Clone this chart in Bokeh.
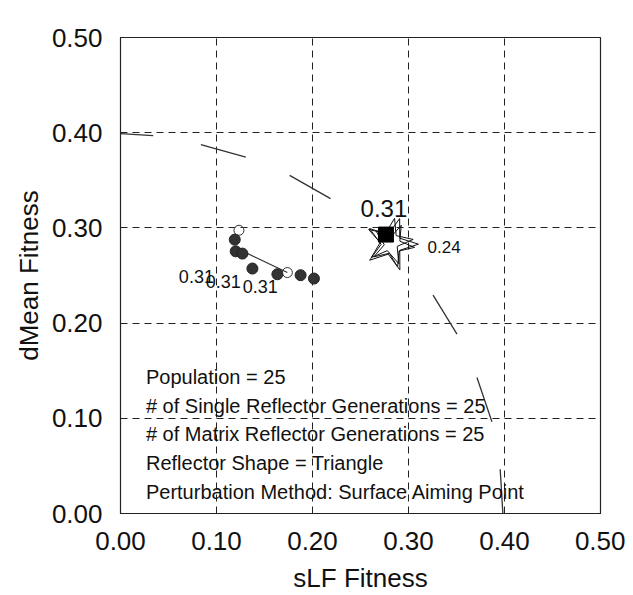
from bokeh.plotting import figure
from bokeh.models import Range1d, FixedTicker, PrintfTickFormatter
from bokeh.core.properties import value
from bokeh.embed import file_html
from bokeh.resources import INLINE

# ---- data ----
tick_vals = [0.0, 0.1, 0.2, 0.3, 0.4, 0.5]
grid_vals = [0.1, 0.2, 0.3, 0.4]

# broken arc segments (front)
arc_x0 = [0.000, 0.0837, 0.1762, 0.3256, 0.3713, 0.3955]
arc_y0 = [0.399, 0.3874, 0.3552, 0.2293, 0.1429, 0.0464]
arc_x1 = [0.034, 0.1305, 0.2188, 0.3505, 0.3869, 0.3983]
arc_y1 = [0.397, 0.3744, 0.3307, 0.1884, 0.0963, 0.0000]

# population points (filled)
pop_x = [0.119, 0.120, 0.127, 0.1374, 0.1634, 0.1876, 0.2015]
pop_y = [0.2877, 0.2754, 0.273, 0.2573, 0.2513, 0.2503, 0.2468]

# open points
open_x = [0.1234, 0.1738]
open_y = [0.2975, 0.2531]

# connecting line
link_x = [0.1252, 0.1738]
link_y = [0.2765, 0.2531]

# small labels
small_lab_x = [0.0608, 0.0889, 0.1273]
small_lab_y = [0.249, 0.244, 0.2387]
small_lab_t = ["0.31", "0.31", "0.31"]

# star cluster
star_x = [0.2822, 0.2800, 0.2835]
star_y = [0.2828, 0.2855, 0.2815]
star_size = [54, 48, 44]
star_angle = [-0.31, -0.22, -0.40]

# best point
best_x = [0.2765]
best_y = [0.2930]
best_lab = ["0.31"]
best_lab_x = [0.2744]
best_lab_y = [0.3206]

other_lab = ["0.24"]
other_lab_x = [0.3198]
other_lab_y = [0.2800]

info_lines = [
    "Population = 25",
    "# of Single Reflector Generations = 25",
    "# of Matrix Reflector Generations = 25",
    "Reflector Shape = Triangle",
    "Perturbation Method: Surface Aiming Point",
]
info_x = [0.0265] * 5
info_y = [0.1436, 0.1133, 0.0839, 0.0533, 0.0229]

FONT = "Liberation Sans"

p = figure(width=625, height=595, output_backend="svg", toolbar_location=None,
           x_range=Range1d(0, 0.5), y_range=Range1d(0, 0.5),
           min_border_left=120, min_border_right=25, min_border_top=37,
           min_border_bottom=81, background_fill_color="white",
           border_fill_color="white")

p.outline_line_color = "#222222"
p.outline_line_width = 1.2

for ax in (p.xaxis[0], p.yaxis[0]):
    ax.ticker = FixedTicker(ticks=tick_vals)
    ax.formatter = PrintfTickFormatter(format="%.2f")
    ax.major_label_text_font = FONT
    ax.major_label_text_font_size = "26px"
    ax.major_label_text_color = "#111111"
    ax.axis_label_text_font = FONT
    ax.axis_label_text_font_size = "26px"
    ax.axis_label_text_font_style = "normal"
    ax.axis_label_text_color = "#111111"
    ax.major_tick_in = 6
    ax.major_tick_out = 0
    ax.minor_tick_line_color = None
    ax.axis_line_color = "#222222"
    ax.major_tick_line_color = "#222222"

p.xaxis.axis_label = "sLF Fitness"
p.yaxis.axis_label = "dMean Fitness"
p.xaxis.major_label_standoff = 18
p.yaxis.major_label_standoff = 18
p.xaxis.axis_label_standoff = 10
p.yaxis.axis_label_standoff = 5

p.xgrid.ticker = FixedTicker(ticks=grid_vals)
p.ygrid.ticker = FixedTicker(ticks=grid_vals)
for g in (p.xgrid[0], p.ygrid[0]):
    g.grid_line_color = "#222222"
    g.grid_line_dash = "7 5"
    g.grid_line_width = 1

# arcs
p.segment(x0=arc_x0, y0=arc_y0, x1=arc_x1, y1=arc_y1, line_color="#333333", line_width=1.3)

# link line
p.line(link_x, link_y, line_color="#333333", line_width=1.2)

# population
p.scatter(pop_x, pop_y, size=11, marker="circle", fill_color="#333333", line_color="#222222")
p.scatter(open_x, open_y, size=10, marker="circle", fill_color=None, line_color="#333333", line_width=1)

# star cluster
p.scatter(star_x, star_y, size=star_size, angle=star_angle, marker="star",
          fill_color=None, line_color="#111111", line_width=1)

# best
p.scatter(best_x, best_y, size=15, marker="square", fill_color="black", line_color="black")

# labels
p.text(small_lab_x, small_lab_y, text=small_lab_t, text_font=value(FONT),
       text_font_size="18px", text_color="#111111", text_baseline="alphabetic", text_align="left")
p.text(best_lab_x, best_lab_y, text=best_lab, text_font=value(FONT),
       text_font_size="24px", text_color="#111111", text_baseline="alphabetic", text_align="center")
p.text(other_lab_x, other_lab_y, text=other_lab, text_font=value(FONT),
       text_font_size="17px", text_color="#111111", text_baseline="alphabetic", text_align="left")
p.text(info_x, info_y, text=info_lines, text_font=value(FONT),
       text_font_size="20px", text_color="#111111", text_baseline="alphabetic", text_align="left")

open("out.html", "w").write(file_html(p, INLINE))
